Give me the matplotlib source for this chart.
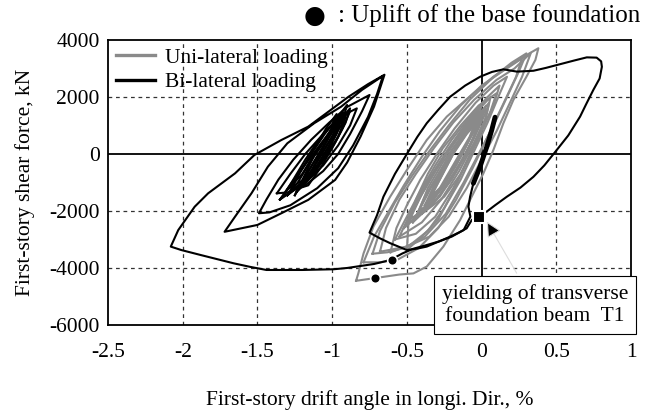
import matplotlib
matplotlib.use("Agg")
import matplotlib.pyplot as plt

plt.rcParams['font.family'] = ['Liberation Serif', 'DejaVu Serif']
plt.rcParams['font.size'] = 15.5

# drift angle (%) and shear force (kN)
uni_loops = [
    # outer uni-lateral loop
    [(-0.84, -4450), (-0.825, -4190), (-0.79, -3490), (-0.724, -2550), (-0.612, -1500),
     (-0.5, -560), (-0.367, 490), (-0.233, 1310), (-0.055, 2130), (0.079, 2710),
     (0.213, 3180), (0.30, 3470), (0.38, 3710), (0.36, 3300), (0.30, 2710),
     (0.213, 1900), (0.146, 1080), (0.079, 140), (0.012, -680), (-0.055, -1380),
     (-0.144, -2320), (-0.256, -3250), (-0.367, -3950), (-0.456, -4190),
     (-0.55, -4230), (-0.72, -4360), (-0.84, -4450)],
    [(-0.79, -3800), (-0.72, -2900), (-0.62, -2000), (-0.52, -1100), (-0.40, -100),
     (-0.28, 800), (-0.14, 1700), (0.0, 2400), (0.14, 2900), (0.27, 3350),
     (0.23, 2700), (0.14, 1700), (0.04, 600), (-0.06, -500), (-0.17, -1600),
     (-0.29, -2600), (-0.42, -3300), (-0.56, -3700), (-0.68, -3800), (-0.79, -3800)],
    [(-0.73, -3500), (-0.68, -2700), (-0.58, -1700), (-0.47, -800), (-0.35, 100),
     (-0.22, 1000), (-0.08, 1900), (0.08, 2700), (0.20, 3200), (0.30, 3530),
     (0.25, 2900), (0.17, 2000), (0.08, 1000), (-0.02, 0), (-0.12, -1000),
     (-0.24, -2100), (-0.38, -2900), (-0.52, -3300), (-0.63, -3450), (-0.73, -3500)],
    [(-0.68, -3430), (-0.64, -2600), (-0.55, -1600), (-0.44, -700), (-0.32, 200),
     (-0.19, 1100), (-0.05, 1900), (0.10, 2600), (0.22, 3000), (0.33, 3550),
     (0.27, 2700), (0.19, 1800), (0.10, 800), (0.0, -200), (-0.10, -1200),
     (-0.22, -2200), (-0.35, -2900), (-0.50, -3250), (-0.68, -3430)],
    [(-0.61, -3450), (-0.57, -2600), (-0.50, -1800), (-0.41, -900), (-0.30, 0),
     (-0.18, 900), (-0.04, 1800), (0.08, 2400), (0.17, 2710), (0.12, 2100),
     (0.04, 1100), (-0.05, 100), (-0.14, -900), (-0.25, -1900), (-0.36, -2700),
     (-0.48, -3200), (-0.61, -3450)],
    [(-0.50, -3370), (-0.49, -2500), (-0.44, -1600), (-0.36, -700), (-0.26, 200),
     (-0.14, 1000), (-0.02, 1700), (0.10, 2130), (0.06, 1500), (-0.02, 600),
     (-0.10, -300), (-0.19, -1300), (-0.29, -2300), (-0.40, -2900), (-0.50, -3370)],
    [(-0.55, -2900), (-0.47, -2000), (-0.38, -1100), (-0.27, -200), (-0.15, 700),
     (-0.03, 1500), (0.06, 2000), (0.03, 1300), (-0.05, 400), (-0.15, -600),
     (-0.27, -1600), (-0.40, -2400), (-0.55, -2900)],
    [(-0.58, -3000), (-0.50, -2200), (-0.41, -1300), (-0.31, -400), (-0.20, 500),
     (-0.08, 1300), (0.04, 2000), (0.12, 2400), (0.08, 1700), (0.0, 800),
     (-0.09, -200), (-0.19, -1200), (-0.31, -2200), (-0.44, -2800), (-0.58, -3000)],
    [(-0.52, -2600), (-0.42, -1600), (-0.32, -700), (-0.22, 200), (-0.10, 1100),
     (0.0, 1700), (-0.04, 1000), (-0.12, 100), (-0.22, -800), (-0.34, -1700),
     (-0.52, -2600)],
    [(-0.50, -2500), (-0.44, -1800), (-0.36, -1000), (-0.25, -100), (-0.13, 800),
     (-0.02, 1500), (-0.06, 800), (-0.14, -100), (-0.24, -1000), (-0.36, -1900),
     (-0.50, -2500)],
    [(-0.48, -2300), (-0.40, -1400), (-0.30, -500), (-0.18, 400), (-0.06, 1200),
     (0.04, 1600), (-0.02, 900), (-0.10, 0), (-0.20, -900), (-0.32, -1700),
     (-0.48, -2300)],
    [(-0.44, -2200), (-0.38, -1500), (-0.29, -700), (-0.19, 200), (-0.08, 1000),
     (0.03, 1700), (-0.01, 1100), (-0.08, 300), (-0.17, -600), (-0.28, -1500),
     (-0.44, -2200)],
    [(-0.42, -2000), (-0.36, -1200), (-0.26, -300), (-0.15, 500), (-0.04, 1300),
     (0.02, 1500), (-0.06, 700), (-0.16, -200), (-0.26, -1100), (-0.34, -1700),
     (-0.42, -2000)],
    [(-0.40, -2100), (-0.33, -1300), (-0.24, -400), (-0.14, 500), (-0.04, 1200),
     (0.05, 1800), (0.02, 1100), (-0.05, 300), (-0.14, -700), (-0.25, -1500),
     (-0.40, -2100)],
    [(-0.46, -2400), (-0.34, -1200), (-0.22, -200), (-0.12, 600), (0.0, 1400),
     (-0.06, 500), (-0.16, -500), (-0.30, -1600), (-0.46, -2400)],
    [(-0.38, -1800), (-0.30, -900), (-0.20, 0), (-0.10, 800), (-0.02, 1400),
     (-0.08, 600), (-0.18, -300), (-0.28, -1200), (-0.38, -1800)],
    [(-0.36, -1700), (-0.28, -900), (-0.19, 0), (-0.10, 700), (0.0, 1300),
     (-0.05, 600), (-0.13, -200), (-0.24, -1100), (-0.36, -1700)],
    [(-0.34, -1500), (-0.27, -800), (-0.18, 100), (-0.09, 800), (-0.03, 1100),
     (-0.09, 400), (-0.17, -400), (-0.26, -1100), (-0.34, -1500)],
]

# bi-lateral: elastic start, long excursion to the negative side and back
bi_elastic = [(-0.055, -1030), (-0.01, -445), (0.035, 257), (0.068, 840), (0.09, 1290)]

bi_left = [
    (-0.055, -1030), (-0.077, -1500), (-0.088, -1850), (-0.075, -2200),
    (-0.12, -2670), (-0.20, -2900), (-0.28, -3060), (-0.37, -3200), (-0.46, -3330),
    (-0.53, -3490), (-0.59, -3660), (-0.64, -3760), (-0.72, -3860), (-0.81, -3930),
    (-0.90, -4000), (-0.99, -4045), (-1.2, -4070), (-1.44, -4070), (-1.55, -3960),
    (-1.66, -3835), (-1.77, -3690), (-1.88, -3545), (-2.01, -3370), (-2.08, -3250),
    (-2.03, -2670), (-1.92, -1850), (-1.83, -1380), (-1.65, -680), (-1.52, -35),
    (-1.34, 490), (-1.16, 960), (-0.98, 1660), (-0.89, 2010), (-0.76, 2450),
    (-0.65, 2780),
    (-0.68, 2300), (-0.72, 1660), (-0.81, 610), (-0.90, -300), (-0.98, -910),
    (-1.16, -1610), (-1.34, -2080), (-1.50, -2490), (-1.61, -2610), (-1.72, -2730),
    (-1.65, -2200), (-1.54, -1380), (-1.43, -445), (-1.30, 375), (-1.12, 1080),
    (-0.94, 1660), (-0.80, 2250), (-0.66, 2740),
    (-0.70, 2100), (-0.76, 1300), (-0.86, 300), (-0.96, -500), (-1.10, -1200),
    (-1.28, -1800), (-1.42, -2050), (-1.49, -2080),
    (-1.44, -1600), (-1.36, -900), (-1.26, -200), (-1.14, 500), (-1.02, 1100),
    (-0.90, 1650), (-0.75, 2070),
    (-0.80, 1500), (-0.88, 700), (-0.96, 0), (-1.06, -600), (-1.18, -1100),
    (-1.30, -1350), (-1.37, -1380),
]

bi_core = [
    [(-1.37, -1380), (-1.28, -700), (-1.18, 0), (-1.06, 700), (-0.95, 1300),
     (-0.835, 1600), (-0.88, 1000), (-0.96, 300), (-1.06, -400), (-1.18, -1000),
     (-1.33, -1500)],
    [(-1.33, -1500), (-1.26, -900), (-1.18, -200), (-1.09, 500), (-0.99, 1100),
     (-0.90, 1720), (-0.94, 1000), (-1.02, 300), (-1.10, -400), (-1.20, -1000),
     (-1.28, -1300)],
    [(-1.35, -1600), (-1.27, -1000), (-1.17, -300), (-1.07, 400), (-0.98, 1000),
     (-0.88, 1600), (-0.91, 1100), (-0.98, 400), (-1.07, -300), (-1.18, -1000),
     (-1.35, -1600)],
    [(-1.28, -1300), (-1.22, -700), (-1.14, 0), (-1.05, 700), (-0.96, 1300),
     (-0.92, 1450), (-0.98, 800), (-1.06, 100), (-1.14, -600), (-1.22, -1100),
     (-1.25, -1450)],
    [(-1.25, -1450), (-1.18, -800), (-1.10, -100), (-1.02, 600), (-0.94, 1200),
     (-0.88, 1500), (-0.93, 900), (-1.00, 200), (-1.08, -500), (-1.16, -1100),
     (-1.22, -1200)],
    [(-1.30, -1450), (-1.23, -1000), (-1.15, -300), (-1.07, 300), (-1.00, 900),
     (-0.91, 1300), (-0.96, 600), (-1.05, -100), (-1.14, -800), (-1.30, -1450)],
    [(-1.24, -1350), (-1.18, -700), (-1.12, -50), (-1.04, 600), (-0.97, 1150),
     (-0.93, 1350), (-0.97, 700), (-1.04, 0), (-1.12, -700), (-1.24, -1350)],
    [(-1.22, -1200), (-1.16, -600), (-1.08, 100), (-1.00, 800), (-0.95, 1200),
     (-1.00, 600), (-1.08, -100), (-1.16, -800), (-1.30, -1250)],
    [(-1.20, -1100), (-1.13, -500), (-1.06, 200), (-0.99, 900), (-0.93, 1500),
     (-0.96, 900), (-1.03, 200), (-1.11, -500), (-1.20, -1100)],
    [(-1.30, -1250), (-1.20, -500), (-1.12, 200), (-1.04, 900), (-0.97, 1400),
     (-1.02, 700), (-1.12, 0), (-1.20, -700), (-1.30, -1250)],
]

# large positive excursion ending at the yielding point
bi_right = [
    (0.035, -2020), (0.09, -1800), (0.169, -1500), (0.26, -1180),
    (0.347, -800), (0.42, -400), (0.503, 140), (0.58, 650), (0.659, 1310),
    (0.70, 1750), (0.748, 2250), (0.79, 2650), (0.805, 3060), (0.80, 3250),
    (0.77, 3380), (0.704, 3390), (0.62, 3280), (0.503, 3120), (0.43, 3020),
    (0.347, 2920), (0.236, 2890), (0.146, 2970), (0.07, 2880), (-0.01, 2710),
    (-0.11, 2400), (-0.21, 2010), (-0.29, 1550), (-0.367, 1080), (-0.43, 600),
    (-0.5, 0), (-0.58, -700), (-0.657, -1500), (-0.70, -2150), (-0.75, -2760),
    (-0.68, -2960), (-0.612, -3130), (-0.5, -3370), (-0.43, -3320), (-0.367, -3250),
    (-0.29, -3080), (-0.21, -2900), (-0.15, -2750), (-0.1, -2610), (-0.066, -2320),
]

uplift_x = [-0.60, -0.713]
uplift_y = [-3720, -4360]
yield_x, yield_y = -0.02, -2200

x_ticks = [-2.5, -2, -1.5, -1, -0.5, 0, 0.5, 1]
x_labels = ['-2.5', '-2', '-1.5', '-1', '-0.5', '0', '0.5', '1']
y_ticks = [4000, 2000, 0, -2000, -4000, -6000]
y_labels = ['4000', '2000', '0', '-2000', '-4000', '-6000']

fig = plt.figure(figsize=(6.48, 4.16), dpi=100)
ax = fig.add_axes([0.1667, 0.2188, 0.8071, 0.6851])

for gx in [-2, -1.5, -1, -0.5, 0.5]:
    ax.axvline(gx, color='#333333', lw=0.9, ls=(0, (3, 3)), zorder=1)
for gy in [2000, -2000, -4000]:
    ax.axhline(gy, color='#333333', lw=0.9, ls=(0, (3, 3)), zorder=1)
ax.axvline(0, color='black', lw=1.3, zorder=1)
ax.axhline(0, color='black', lw=1.3, zorder=1)

for loop in uni_loops:
    xs, ys = zip(*loop)
    ax.plot(xs, ys, color='#8a8a8a', lw=1.5, zorder=2)

xs, ys = zip(*bi_left)
ax.plot(xs, ys, color='black', lw=1.5, zorder=3)
for loop in bi_core:
    xs, ys = zip(*loop)
    ax.plot(xs, ys, color='black', lw=1.5, zorder=3)
xs, ys = zip(*bi_right)
ax.plot(xs, ys, color='black', lw=1.5, zorder=3)
xs, ys = zip(*bi_elastic)
ax.plot(xs, ys, color='black', lw=3.5, solid_capstyle='round', zorder=3)

ax.plot(uplift_x, uplift_y, 'o', ms=7, mfc='black', mec='white', mew=1.2, zorder=5)
ax.plot(yield_x, yield_y, 's', ms=9, mfc='black', mec='white', mew=1.5, zorder=5)

ax.plot([], [], color='#8a8a8a', lw=2.4, label='Uni-lateral loading')
ax.plot([], [], color='black', lw=2.4, label='Bi-lateral loading')
ax.legend(loc='upper left', frameon=False, fontsize=15.5, handlelength=1.85,
          borderaxespad=0.15, labelspacing=0.22, handletextpad=0.45,
          borderpad=0.2)

ax.annotate('yielding of transverse\nfoundation beam  T1',
            xy=(0.035, -2370), xytext=(0.358, -5300),
            ha='center', va='center', fontsize=15.5, annotation_clip=False,
            bbox=dict(boxstyle='square,pad=0.38', fc='white', ec='black', lw=0.8),
            arrowprops=dict(arrowstyle='-|>,head_length=0.6,head_width=0.3',
                            fc='black', ec='#dddddd', lw=0.8, shrinkB=0),
            zorder=10)

ax.set_xlim(-2.5, 1)
ax.set_ylim(-6000, 4000)
ax.set_xticks(x_ticks)
ax.set_xticklabels(x_labels)
ax.set_yticks(y_ticks)
ax.set_yticklabels(y_labels)
ax.tick_params(axis='x', length=0, pad=13)
ax.tick_params(axis='y', length=0, pad=6)
for s in ax.spines.values():
    s.set_linewidth(1.3)

ax.set_xlabel('First-story drift angle in longi. Dir., %', labelpad=20)
ax.set_ylabel('First-story shear force, kN', labelpad=10)

fig.text(0.486, 0.962, '\u25cf', ha='center', va='center', fontsize=18,
         family=['DejaVu Sans'])
fig.text(0.988, 0.962, ': Uplift of the base foundation', ha='right', va='center',
         fontsize=18)

fig.savefig('out.png', dpi=100)
